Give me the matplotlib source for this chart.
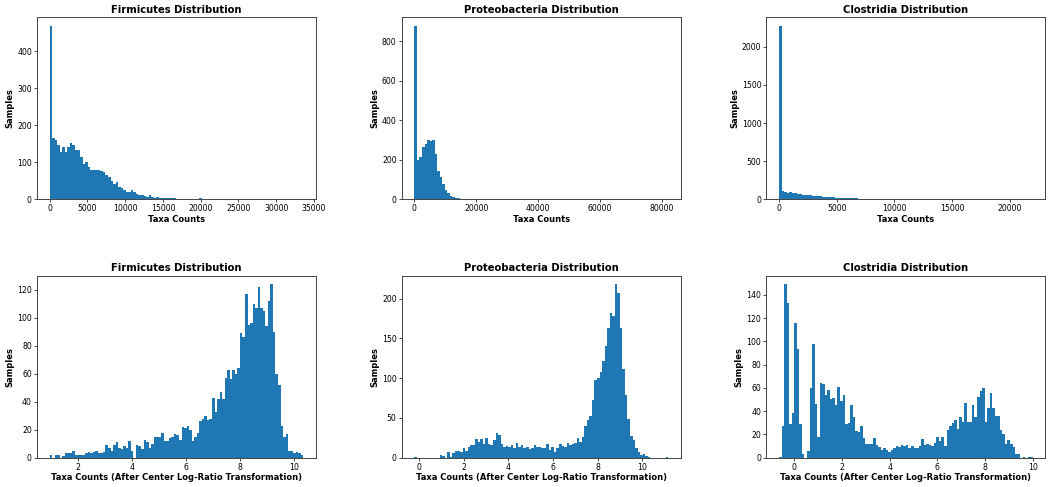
import matplotlib
matplotlib.use("Agg")
import matplotlib.pyplot as plt
import numpy as np

# bin counts (100 bins per panel)
firm_counts = [470, 166, 160, 147, 128, 140, 128, 140, 152, 147,
               133, 133, 115, 95, 100, 87, 79, 80, 80, 79,
               76, 73, 64, 60, 50, 40, 47, 33, 30, 25,
               18, 20, 25, 20, 15, 10, 10, 8, 5, 10,
               5, 3, 5, 3, 4, 2, 3, 3, 2, 2,
               1, 1, 1, 1, 0, 1, 0, 1, 1, 2,
               1, 0, 1, 1, 1, 0, 0, 1, 0, 0,
               1, 1, 0, 1, 0, 1, 1, 0, 1, 0,
               1, 0, 0, 1, 0, 0, 0, 0, 0, 0,
               0, 0, 0, 0, 0, 0, 0, 0, 0, 1]
firm_counts_range = (0, 33600)

proteo_counts = [880, 200, 215, 265, 280, 300, 295, 300, 230, 145,
                 110, 75, 45, 30, 15, 10, 8, 5, 3, 2,
                 2, 1, 1, 1, 1, 0, 1, 1, 0, 0] + [0] * 69 + [1]
proteo_counts_range = (0, 82000)

clost_counts = [2280, 110, 95, 85, 90, 80, 75, 70, 65, 60,
                55, 50, 48, 47, 45, 42, 35, 32, 30, 28,
                25, 22, 20, 18, 17, 15, 12, 12, 10, 8,
                8, 6, 5, 5, 4, 3, 3, 2, 2, 2,
                1, 1, 1, 0, 1, 0, 0, 1, 0, 0] + [0] * 49 + [1]
clost_counts_range = (0, 22000)

firm_clr = [2, 0, 2, 2, 0, 1, 3, 3, 3, 5,
            2, 2, 2, 2, 3, 4, 3, 4, 5, 3,
            3, 4, 9, 7, 5, 9, 11, 7, 6, 8,
            7, 12, 5, 0, 9, 8, 6, 13, 11, 7,
            10, 15, 15, 15, 18, 12, 12, 14, 15, 17,
            16, 13, 22, 21, 23, 20, 12, 15, 18, 26,
            28, 30, 27, 28, 43, 33, 42, 47, 42, 57,
            63, 56, 63, 60, 64, 89, 86, 117, 95, 96,
            110, 107, 122, 107, 105, 94, 112, 124, 90, 60,
            52, 23, 15, 17, 5, 5, 3, 4, 3, 2]
firm_clr_range = (0.95, 10.33)

proteo_clr = [1, 0, 0, 0, 0, 0, 0, 0, 0, 0,
              3, 2, 0, 7, 1, 6, 8, 8, 7, 12,
              8, 13, 16, 16, 23, 20, 23, 17, 25, 17,
              16, 22, 31, 28, 17, 13, 15, 13, 16, 12,
              19, 13, 16, 12, 13, 11, 12, 16, 13, 13,
              12, 12, 17, 10, 13, 7, 12, 17, 15, 13,
              19, 16, 17, 18, 25, 20, 26, 40, 47, 52,
              73, 98, 100, 108, 122, 140, 163, 182, 178, 218,
              207, 163, 111, 79, 48, 27, 22, 12, 7, 3,
              5, 2, 1, 0, 0, 0, 0, 0, 0, 1]
proteo_clr_range = (-0.2, 11.15)

clost_clr = [1, 27, 149, 133, 29, 38, 116, 93, 29, 3,
             0, 6, 60, 98, 46, 18, 64, 63, 54, 58,
             50, 51, 45, 61, 49, 54, 29, 30, 45, 35,
             23, 22, 27, 17, 12, 12, 12, 17, 11, 9,
             7, 8, 7, 5, 7, 8, 10, 9, 11, 10,
             11, 8, 10, 8, 8, 10, 16, 11, 12, 11,
             10, 13, 18, 14, 18, 10, 24, 27, 30, 32,
             25, 35, 31, 47, 31, 31, 45, 35, 52, 57,
             60, 31, 43, 56, 43, 36, 36, 24, 20, 12,
             15, 12, 9, 3, 3, 0, 1, 0, 1, 1]
clost_clr_range = (-0.64, 10.0)

names = ["Firmicutes", "Proteobacteria", "Clostridia"]
raw = [(firm_counts, firm_counts_range), (proteo_counts, proteo_counts_range),
       (clost_counts, clost_counts_range)]
clr = [(firm_clr, firm_clr_range), (proteo_clr, proteo_clr_range),
       (clost_clr, clost_clr_range)]

plt.rcParams['font.family'] = 'DejaVu Sans'

fig, axes = plt.subplots(2, 3, figsize=(10.5, 4.87), dpi=100)
fig.subplots_adjust(left=0.0352, right=0.9957, bottom=0.0602, top=0.9651,
                    wspace=0.307, hspace=0.42)


def draw(ax, counts, rng, title, xlabel):
    edges = np.linspace(rng[0], rng[1], len(counts) + 1)
    ax.hist(edges[:-1], bins=edges, weights=counts, histtype='stepfilled',
            color='#1f77b4', linewidth=0)
    ax.set_title(title, fontsize=7.2, fontweight='bold', pad=3)
    ax.set_xlabel(xlabel, fontsize=6, fontweight='bold', labelpad=1.2)
    ax.set_ylabel('Samples', fontsize=6, fontweight='bold', labelpad=2)
    ax.tick_params(labelsize=5.6, length=2.2, width=0.5, pad=1.5)
    for s in ax.spines.values():
        s.set_linewidth(0.7)
        s.set_color('#444444')


for j, name in enumerate(names):
    draw(axes[0, j], raw[j][0], raw[j][1], name + " Distribution", "Taxa Counts")
    draw(axes[1, j], clr[j][0], clr[j][1], name + " Distribution",
         "Taxa Counts (After Center Log-Ratio Transformation)")

fig.savefig("out.png", dpi=100)
